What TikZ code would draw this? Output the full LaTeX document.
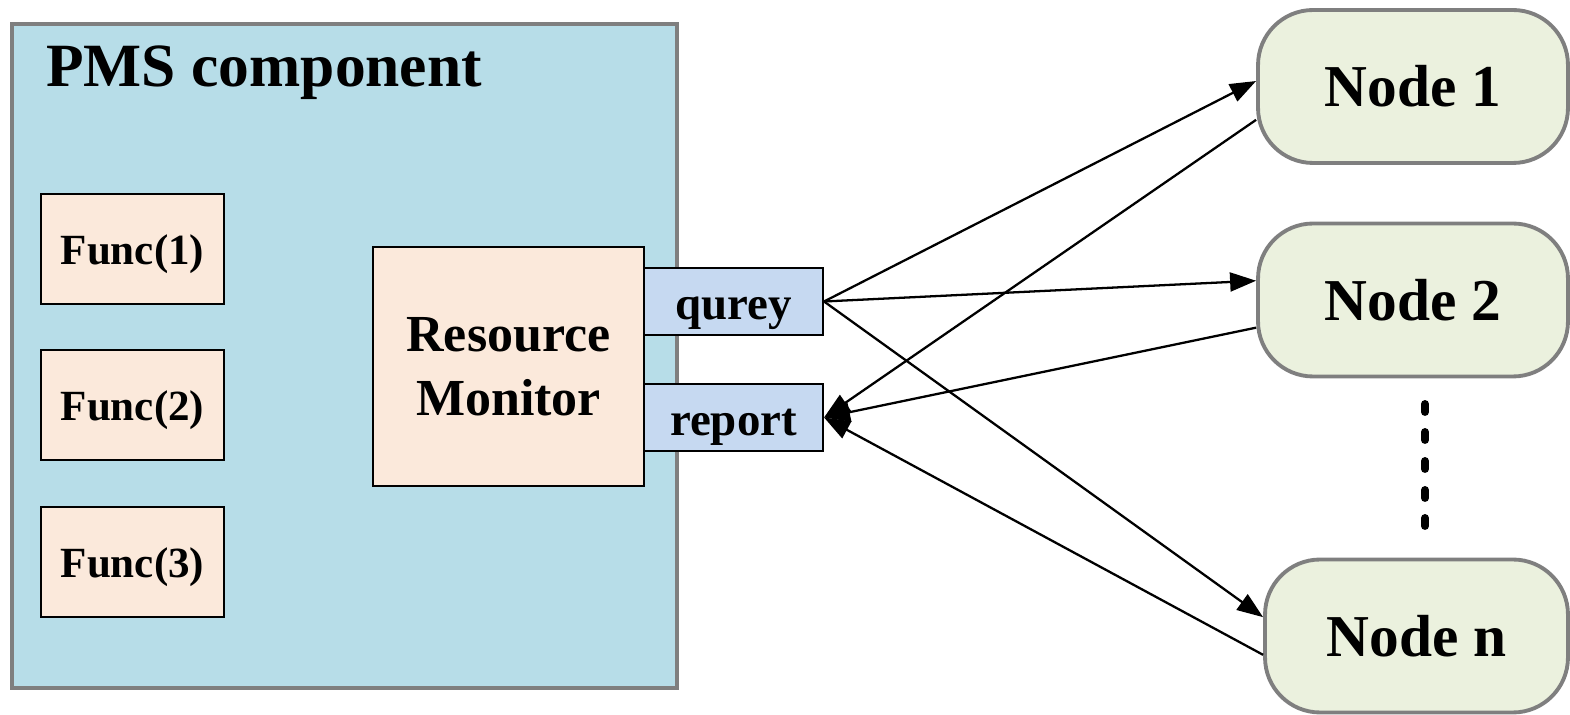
\documentclass[tikz,border=0pt]{standalone}
\usepackage{fontspec}
\setmainfont{Liberation Serif}
\usetikzlibrary{arrows.meta}
\definecolor{pmsblue}{HTML}{B7DDE8}
\definecolor{peach}{HTML}{FBE9DB}
\definecolor{portblue}{HTML}{C6D9F1}
\definecolor{nodegreen}{HTML}{EBF1DE}
\definecolor{bordergray}{HTML}{7F7F7F}
\begin{document}
\begin{tikzpicture}[x=0.02cm,y=-0.02cm]
            \tikzstyle{every node}+=[inner sep=0pt]
            \tikzstyle{funcbox}=[draw=black, line width=1.2pt, fill=peach, minimum width=3.66cm, minimum height=2.2cm, text height=23.5pt, text depth=5.4pt, font=\fontsize{24.5}{29}\selectfont\bfseries]
            \tikzstyle{monbox}=[draw=black, line width=1.2pt, fill=peach, minimum width=5.42cm, minimum height=4.78cm, align=center, font=\fontsize{29.6}{36.3}\selectfont\bfseries]
            \tikzstyle{portbox}=[draw=black, line width=1.2pt, fill=portblue, minimum width=3.58cm, minimum height=1.34cm, text height=26.7pt, text depth=5.9pt, font=\fontsize{26.7}{32}\selectfont\bfseries]
            \tikzstyle{hostbox}=[draw=bordergray, line width=2.2pt, fill=nodegreen, rounded corners=1.1cm, minimum width=6.2cm, minimum height=3.06cm, font=\fontsize{33.8}{40}\selectfont\bfseries]
            \tikzstyle{link}=[line width=1.3pt, -{Triangle[length=0.52cm,width=0.38cm]}]
            \useasboundingbox (0,0) rectangle (1570,715);
            \node [draw=bordergray, line width=2.2pt, fill=pmsblue, minimum width=13.3cm, minimum height=13.28cm] (pms) at (344.5,356) {};
            \node [anchor=base west, font=\fontsize{35}{42}\selectfont\bfseries] (title) at (46,87) {PMS component};
            \node [funcbox] (f1) at (132.5,249) {Func(1)};
            \node [funcbox] (f2) at (132.5,405) {Func(2)};
            \node [funcbox] (f3) at (132.5,562) {Func(3)};
            \node [monbox] (mon) at (508.5,366.5) {Resource\\Monitor};
            \node [portbox] (q) at (733.5,301.5) {qurey};
            \node [portbox] (r) at (733.5,417.5) {report};
            \node [hostbox] (n1) at (1413,86.5) {Node 1};
            \node [hostbox] (n2) at (1413,300) {Node 2};
            \node [hostbox, minimum width=6.06cm] (nn) at (1416.5,636) {Node n};
            \foreach \y in {408,436,465,494,522}
                \draw [line width=4.5pt, line cap=round] (1425,\y-4) -- (1425,\y+4);
            \draw [link] (q.east) -- (n1.178);
            \draw [link] (n1.192) -- (r.east);
            \draw [link] (q.east) -- (n2.173);
            \draw [link] (n2.190) -- (r.east);
            \draw [link] (q.east) -- (nn.173);
            \draw [link] (nn.187) -- (r.east);
        \end{tikzpicture}
\end{document}
